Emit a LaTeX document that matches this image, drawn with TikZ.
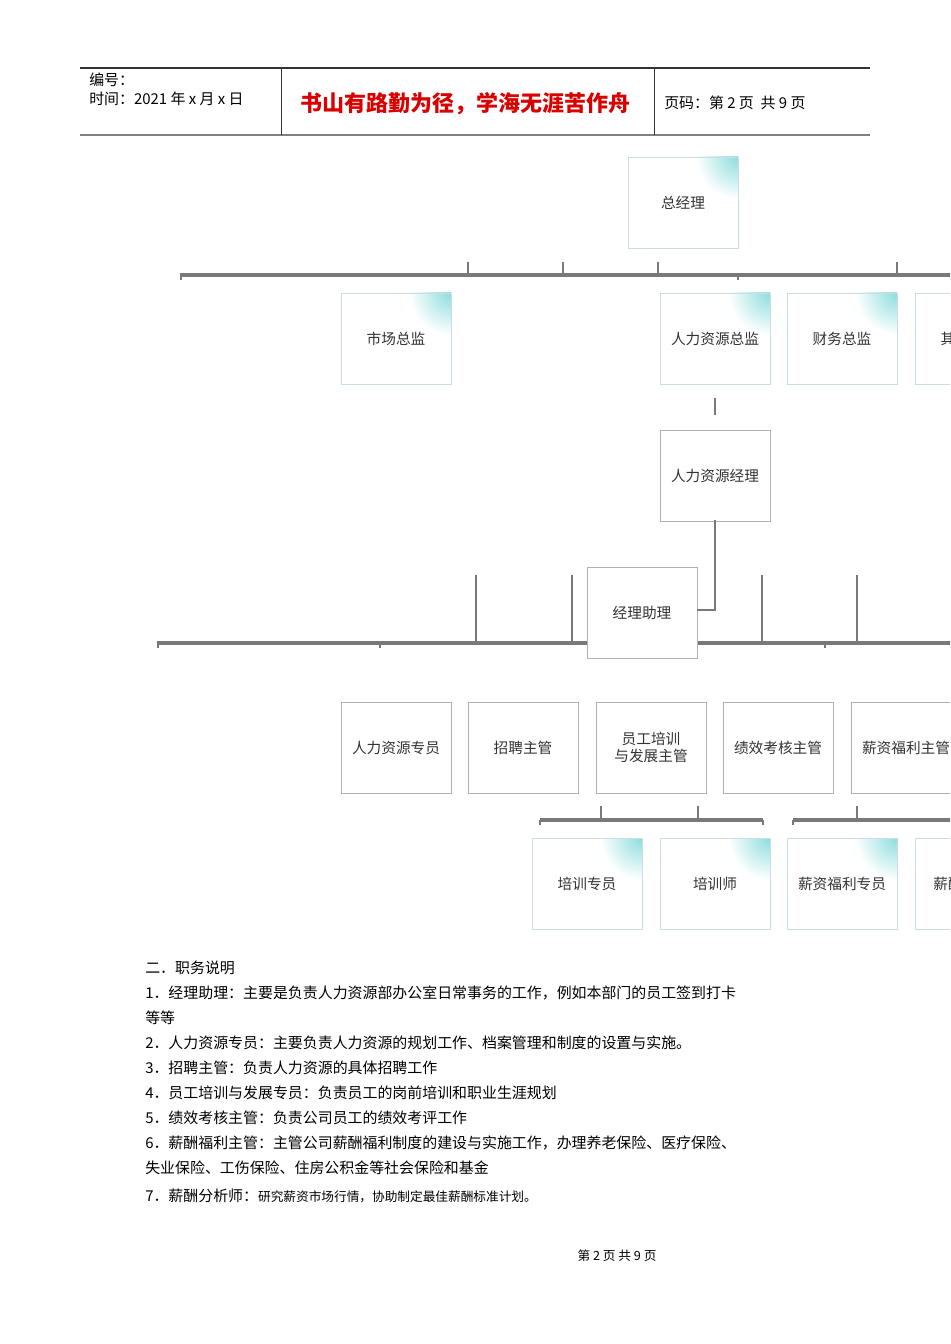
\documentclass[tikz,border=0pt]{standalone}
\usepackage{fontspec}
\setmainfont{Noto Sans CJK SC}
\begin{document}
\begin{tikzpicture}[x=0.75pt,y=-0.75pt,
  bus/.style={draw=gray!95!black,line width=3pt},
  tick/.style={draw=gray!95!black,line width=2.2pt},
  txt/.style={font=\fontsize{11}{13}\selectfont,text=black!80},
  para/.style={anchor=west,font=\fontsize{11.2}{13}\selectfont,inner sep=0pt}]
\useasboundingbox (0,0) rectangle (950,1344);
\clip (0,0) rectangle (950,1344);
% header
\draw[black!80,line width=0.8pt] (80,68) -- (870,68);
\draw[gray,line width=1.2pt] (80,135) -- (870,135);
\draw[black!80,line width=0.6pt] (281,68) -- (281,135) (654,68) -- (654,135);
\node[para] (h1) at (89,80) {编号：};
\node[para] (h2) at (89,99) {时间：2021 年 x 月 x 日};
\node[para,font=\bfseries\fontsize{16.5}{18}\selectfont,text=red!85!black] (h3) at (300,104) {书山有路勤为径，学海无涯苦作舟};
\node[para] (h4) at (664,103) {页码：第 2 页\ \ 共 9 页};
\newcommand{\gbox}[5]{%
  \ifnum#5=1
  \begin{scope}
  \clip (#2,#3) rectangle ++(110,91);
  \fill[white] (#2,#3) rectangle ++(110,91);
  \shade[inner color=cyan!40!teal!45!white,outer color=white] (#2+110,#3) circle (42);
  \end{scope}
  \draw[cyan!30!gray!35,line width=0.6pt] (#2,#3) rectangle ++(110,91);
  \else
  \draw[draw=gray!60,fill=white,line width=0.6pt] (#2,#3) rectangle ++(110,91);
  \fi
  \node[txt,align=center] (#1) at (#2+55,#3+45.5) {#4};}
\gbox{gm}{628}{157}{总经理}{1}
\draw[bus] (180,275) -- (960,275);
\foreach \x in {468,563,658,897} \draw[tick] (\x,262) -- (\x,275);
\foreach \x in {181,738} \draw[tick,line width=1.5pt] (\x,275) -- (\x,280);
\gbox{mk}{341}{293}{市场总监}{1}
\gbox{hrd}{660}{293}{人力资源总监}{1}
\gbox{fin}{787}{293}{财务总监}{1}
\gbox{oth}{915}{293}{其他总监}{1}
\coordinate (c1) at (715,398);
\draw[tick] (c1) -- (715,415);
\gbox{hrm}{660}{430}{人力资源经理}{0}
\draw[bus] (157,643) -- (960,643);
\foreach \x in {476,572,762,857} \draw[tick] (\x,575) -- (\x,643);
\foreach \x in {158,380,825} \draw[tick,line width=1.5pt] (\x,643) -- (\x,648);
\gbox{ast}{587}{567}{经理助理}{0}
\draw[tick] (715,520) -- (715,610) -- (697,610);
\gbox{r1}{341}{702}{人力资源专员}{0}
\gbox{r2}{468}{702}{招聘主管}{0}
\gbox{r3}{596}{702}{员工培训\\与发展主管}{0}
\gbox{r4}{723}{702}{绩效考核主管}{0}
\gbox{r5}{851}{702}{薪资福利主管}{0}
\draw[bus] (540,820) -- (763,820);
\foreach \x in {601,698} \draw[tick] (\x,806) -- (\x,820);
\foreach \x in {540,763} \draw[tick,line width=1.5pt] (\x,820) -- (\x,825);
\draw[bus] (793,820) -- (960,820);
\draw[tick] (857,806) -- (857,820);
\draw[tick,line width=1.5pt] (793,820) -- (793,825);
\gbox{b1}{532}{838}{培训专员}{1}
\gbox{b2}{660}{838}{培训师}{1}
\gbox{b3}{787}{838}{薪资福利专员}{1}
\gbox{b4}{915}{838}{薪酬分析师}{1}
\node[para] (t0) at (145,968) {二．职务说明};
\node[para] (t1) at (145,993) {1．经理助理：主要是负责人力资源部办公室日常事务的工作，例如本部门的员工签到打卡};
\node[para] (t1b) at (145,1018) {等等};
\node[para] (t2) at (145,1043) {2．人力资源专员：主要负责人力资源的规划工作、档案管理和制度的设置与实施。};
\node[para] (t3) at (145,1068) {3．招聘主管：负责人力资源的具体招聘工作};
\node[para] (t4) at (145,1093) {4．员工培训与发展专员：负责员工的岗前培训和职业生涯规划};
\node[para] (t5) at (145,1118) {5．绩效考核主管：负责公司员工的绩效考评工作};
\node[para] (t6) at (145,1143) {6．薪酬福利主管：主管公司薪酬福利制度的建设与实施工作，办理养老保险、医疗保险、};
\node[para] (t6b) at (145,1168) {失业保险、工伤保险、住房公积金等社会保险和基金};
\node[para] (t7) at (145,1196) {7．薪酬分析师：{\fontsize{9.5}{11}\selectfont 研究薪资市场行情，协助制定最佳薪酬标准计划。}};
\node[font=\fontsize{9.5}{11}\selectfont] (ft) at (617,1256) {第 2 页 共 9 页};
\end{tikzpicture}
\end{document}
